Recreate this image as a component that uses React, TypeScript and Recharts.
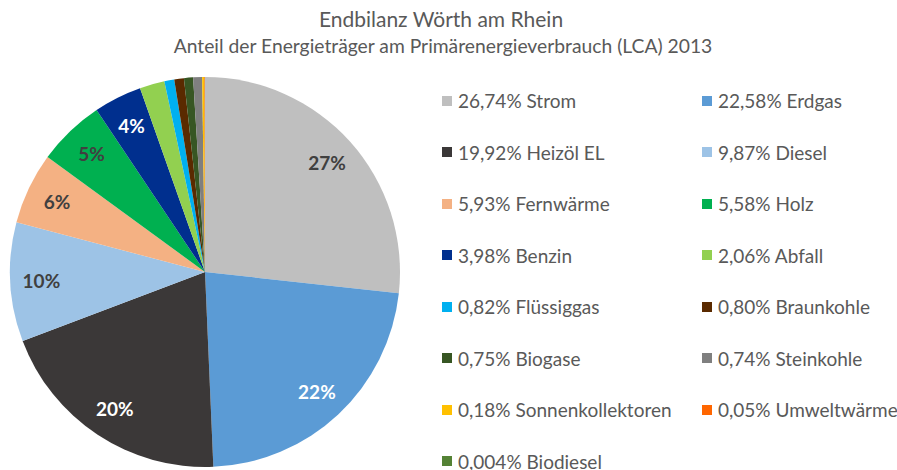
import { PieChart, Pie, Cell } from "recharts";

// Energy carriers, in the order the slices run clockwise from 12 o'clock
const carriers = [
  "Strom", "Erdgas", "Heizöl EL", "Diesel", "Fernwärme", "Holz", "Benzin", "Abfall",
  "Flüssiggas", "Braunkohle", "Biogase", "Steinkohle", "Sonnenkollektoren", "Umweltwärme", "Biodiesel",
];
const shares = [26.74, 22.58, 19.92, 9.87, 5.93, 5.58, 3.98, 2.06, 0.82, 0.8, 0.75, 0.74, 0.18, 0.05, 0.004];
const shareLabels = [
  "26,74%", "22,58%", "19,92%", "9,87%", "5,93%", "5,58%", "3,98%", "2,06%",
  "0,82%", "0,80%", "0,75%", "0,74%", "0,18%", "0,05%", "0,004%",
];
// rounded labels shown inside the pie (as printed in the original)
const sliceLabels = ["27%", "22%", "20%", "10%", "6%", "5%", "4%", "", "", "", "", "", "", "", ""];
const colors = [
  "#bfbfbf", "#5b9bd5", "#3b3838", "#9dc3e6", "#f4b183", "#00b050", "#002f8e", "#92d050",
  "#00b0f0", "#5a2a00", "#375623", "#7f7f7f", "#ffc000", "#ff6600", "#548235",
];
const darkSlices = ["Erdgas", "Heizöl EL", "Benzin"];

const data = carriers.map((name, i) => ({
  name,
  value: shares[i],
  legend: `${shareLabels[i]} ${name}`,
}));

const RADIAN = Math.PI / 180;
const FONT = "Lato, 'Open Sans', sans-serif";

const renderLabel = (props: any) => {
  const { cx, cy, midAngle, outerRadius, index } = props;
  const text = sliceLabels[index];
  if (!text) return null;
  const r = outerRadius * 0.84;
  const x = cx + r * Math.cos(-midAngle * RADIAN);
  const y = cy + r * Math.sin(-midAngle * RADIAN);
  const fill = darkSlices.includes(carriers[index]) ? "#ffffff" : "#404040";
  return (
    <text x={x} y={y} fill={fill} textAnchor="middle" dominantBaseline="central"
      style={{ fontSize: 19, fontWeight: 700, fontFamily: FONT }}>
      {text}
    </text>
  );
};

const ChartLegend = () => (
  <div style={{ position: "absolute", left: 442, top: 75, display: "grid", gridTemplateColumns: "260px 200px" }}>
    {data.map((d, i) => (
      <div key={d.name} style={{ display: "flex", alignItems: "center", height: 51.5 }}>
        <span style={{ width: 10, height: 10, background: colors[i], marginRight: 6, display: "inline-block" }} />
        <span style={{ fontSize: 19, lineHeight: "19px", color: "#595959", whiteSpace: "nowrap" }}>{d.legend}</span>
      </div>
    ))}
  </div>
);

const App = () => {
  return (
    <div style={{ position: "absolute", left: 0, top: 0, width: 897, height: 470, background: "#fff",
      fontFamily: FONT, overflow: "hidden" }}>
      <PieChart width={420} height={470} margin={{ top: 0, right: 0, bottom: 0, left: 0 }}
        style={{ position: "absolute", left: 0, top: 0 }}>
        <Pie
          data={data}
          dataKey="value"
          nameKey="legend"
          cx={205}
          cy={272}
          outerRadius={195}
          startAngle={90}
          endAngle={-270}
          stroke="none"
          label={renderLabel}
          labelLine={false}
          isAnimationActive={false}
        >
          {data.map((d, i) => (
            <Cell key={d.name} fill={colors[i]} />
          ))}
        </Pie>
      </PieChart>
      <div style={{ position: "absolute", top: 6, left: 0, width: 882, textAlign: "center", fontSize: 21, color: "#595959" }}>
        Endbilanz Wörth am Rhein
      </div>
      <div style={{ position: "absolute", top: 34, left: 0, width: 886, textAlign: "center", fontSize: 19.3, color: "#595959" }}>
        Anteil der Energieträger am Primärenergieverbrauch (LCA) 2013
      </div>
      <ChartLegend />
    </div>
  );
};

export default App;
